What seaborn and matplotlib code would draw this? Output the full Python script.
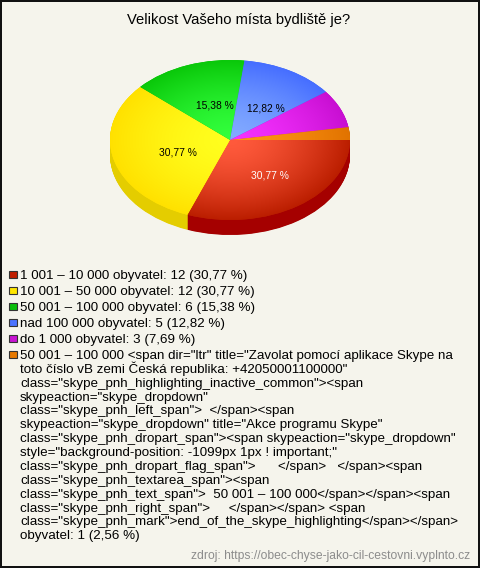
import numpy as np
import matplotlib.pyplot as plt
import matplotlib.patches as mpatches
import seaborn as sns

sns.set_theme(style="white")
plt.rcParams["font.family"] = ["Liberation Sans", "DejaVu Sans"]

#answers per category
counts = [12, 12, 6, 5, 3, 1]
shown_pct = ["30,77 %", "30,77 %", "15,38 %", "12,82 %", "", ""]
label_colors = ["white", "black", "black", "black", "black", "black"]

#slice gradient: centre color -> rim color, plus the side wall and legend color
center_colors = ["#ff5a3c", "#ffff1e", "#32ff3c", "#82aaff", "#f532ff", "#ff9614"]
rim_colors = ["#bb1e00", "#ffe100", "#0ac80a", "#466eff", "#c80fd2", "#e17300"]
side_colors = ["#a50000", "#e4cd00", "#089008", "#3050c0", "#900a98", "#b05a00"]
legend_colors = ["#c01e00", "#ffe600", "#0abe0a", "#4b73ff", "#c814d2", "#e67800"]

title = "Velikost Vašeho místa bydliště je?"
source = "zdroj: https://obec-chyse-jako-cil-cestovni.vyplnto.cz"

legend_rows = [
    "1 001 – 10 000 obyvatel: 12 (30,77 %)",
    "10 001 – 50 000 obyvatel: 12 (30,77 %)",
    "50 001 – 100 000 obyvatel: 6 (15,38 %)",
    "nad 100 000 obyvatel: 5 (12,82 %)",
    "do 1 000 obyvatel: 3 (7,69 %)",
]
long_row = [
    '50 001 – 100 000 <span dir="ltr" title="Zavolat pomocí aplikace Skype na',
    'toto číslo vB zemi Česká republika: +42050001100000"',
    'class="skype_pnh_highlighting_inactive_common"><span',
    'skypeaction="skype_dropdown"',
    'class="skype_pnh_left_span">  </span><span',
    'skypeaction="skype_dropdown" title="Akce programu Skype"',
    'class="skype_pnh_dropart_span"><span skypeaction="skype_dropdown"',
    'style="background-position: -1099px 1px ! important;"',
    'class="skype_pnh_dropart_flag_span">      </span>   </span><span',
    'class="skype_pnh_textarea_span"><span',
    'class="skype_pnh_text_span">  50 001 – 100 000</span></span><span',
    'class="skype_pnh_right_span">     </span></span> <span',
    'class="skype_pnh_mark">end_of_the_skype_highlighting</span></span>',
    'obyvatel: 1 (2,56 %)',
]

W, H = 480, 568
BG = "#f5f4ec"
fig = plt.figure(figsize=(W / 100, H / 100), dpi=100, facecolor=BG)
fig.patch.set_edgecolor("#111111")
fig.patch.set_linewidth(1.5)

#axes over the whole figure, 1 data unit = pie radius (120 x 80 px, squashed pie)
ax = fig.add_axes([0, 0, 1, 1])
cx, cy, rx, ry, depth = 230, 140, 120, 80, 15

def pie_kw():
    return dict(startangle=0, counterclock=False, radius=1,
                wedgeprops=dict(edgecolor="none", linewidth=0))

#side wall: same pie stacked downward
for d in np.arange(depth, 0, -0.5):
    ax.pie(counts, colors=side_colors, center=(0, -d / ry), frame=True, **pie_kw())

#top face
wedges, _, autotexts = ax.pie(
    counts, colors=rim_colors, center=(0, 0), frame=True,
    autopct=lambda p: "", pctdistance=0.5, **pie_kw())

#radial gradient clipped to each wedge, stays light a bit further out
xx, yy = np.meshgrid(np.linspace(-1, 1, 400), np.linspace(-1, 1, 400))
rr = np.clip(np.hypot(xx, yy), 0, 1) ** 1.5
for w, c0, c1 in zip(wedges, center_colors, rim_colors):
    cmap = sns.blend_palette([c0, c1], as_cmap=True)
    im = ax.imshow(rr, cmap=cmap, vmin=0, vmax=1, extent=(-1, 1, -1, 1),
                   origin="lower", aspect="auto", zorder=w.get_zorder() + 0.1)
    im.set_clip_path(w)

#percent labels, nudged like the original
for t, s, c in zip(autotexts, shown_pct, label_colors):
    x, y = t.get_position()
    t.set_position((x + 6 / rx, y - 3 / ry))
    t.set_text(s)
    t.set_color(c)
    t.set_fontsize(7.4)
    t.set_zorder(10)

ax.set_aspect("auto")
ax.set_xlim(-cx / rx, (W - cx) / rx)
ax.set_ylim((cy - H) / ry, cy / ry)
ax.set_axis_off()

def put(x, y, s, **kw):
    fig.text(x / W, 1 - y / H, s, va="baseline", **kw)

def swatch(y, col):
    fig.add_artist(mpatches.Rectangle((9 / W, 1 - (y - 1) / H), 8 / W, 7 / H,
                                      transform=fig.transFigure, facecolor=col,
                                      edgecolor="#333333", linewidth=0.8))

put(239, 24, title, ha="center", fontsize=10.6, color="black")

#legend rows
fs = 9.6
ypos = 279
for row, col in zip(legend_rows, legend_colors):
    swatch(ypos, col)
    put(20, ypos, row, fontsize=fs, color="black")
    ypos += 16

swatch(ypos, legend_colors[5])
for i, line in enumerate(long_row):
    put(20, ypos + i * 13.87, line, fontsize=fs, color="black")

put(470, 559, source, ha="right", fontsize=8.7, color="#8c8c8c")

fig.savefig("out.png", dpi=100)
